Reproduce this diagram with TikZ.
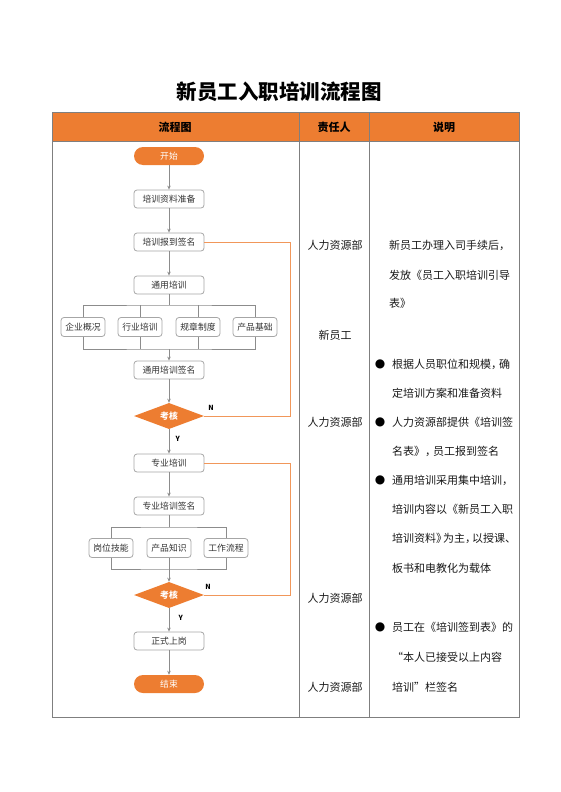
\documentclass[tikz,border=0pt]{standalone}
\usepackage{fontspec}
\setmainfont{Noto Sans CJK SC}
\newfontfamily\symfont{DejaVu Sans}
\usetikzlibrary{shapes.geometric, arrows.meta}
\definecolor{org}{HTML}{ED7D31}
\definecolor{lng}{HTML}{8C8C8C}
\definecolor{bdr}{HTML}{A6A6A6}
\definecolor{tbl}{HTML}{7F7F7F}
\definecolor{txt}{HTML}{333333}
\tikzset{
  box/.style={draw=bdr, line width=0.8pt, rounded corners=3pt, fill=white, minimum width=70pt, minimum height=18pt, inner sep=0pt, font=\fontsize{8.8}{10}\selectfont, text=txt},
  sbox/.style={box, minimum width=44pt, minimum height=19pt},
  pill/.style={fill=org, rounded corners=9pt, minimum width=70pt, minimum height=18pt, inner sep=0pt, font=\fontsize{8.8}{10}\selectfont, text=white},
  dia/.style={diamond, fill=org, minimum width=70pt, minimum height=26pt, inner sep=0pt, font=\fontsize{8.8}{10}\selectfont\bfseries, text=white},
  arr/.style={draw=lng, line width=0.8pt, -{Stealth[length=4pt,width=3.5pt]}},
  ln/.style={draw=lng, line width=0.8pt},
  oln/.style={draw=org!80, line width=0.9pt},
  yn/.style={font=\fontsize{7}{8}\selectfont\bfseries, text=black},
  who/.style={font=\fontsize{11}{12}\selectfont, text=black!90},
  desc/.style={font=\fontsize{11}{12}\selectfont, text=black!90, anchor=west, inner sep=0pt},
  bul/.style={font=\symfont\fontsize{12}{12}\selectfont, text=black, inner sep=0pt},
  hdr/.style={font=\fontsize{11}{12}\selectfont\bfseries, text=black}
}
\begin{document}
\begin{tikzpicture}[x=1pt,y=-1pt]
\useasboundingbox (0,0) rectangle (560,792);
% title
\node[font=\fontsize{20.5}{22}\selectfont\bfseries] (title) at (279,92) {新员工入职培训流程图};
% table
\fill[org] (52,112) rectangle (519,141);
\draw[tbl, line width=0.9pt] (52,112) rectangle (519,717);
\draw[tbl, line width=0.9pt] (52,141) -- (519,141);
\draw[tbl, line width=0.9pt] (299,112) -- (299,717);
\draw[tbl, line width=0.9pt] (369,112) -- (369,717);
\node[hdr] (h1) at (175,127) {流程图};
\node[hdr] (h2) at (334,127) {责任人};
\node[hdr] (h3) at (444,127) {说明};

% flowchart
\node[pill] (start) at (169,156) {开始};
\node[box] (prep) at (169,199) {培训资料准备};
\node[box] (sign) at (169,242) {培训报到签名};
\node[box] (gen) at (169,285) {通用培训};
\node[sbox] (g1) at (83,327) {企业概况};
\node[sbox] (g2) at (140,327) {行业培训};
\node[sbox] (g3) at (198,327) {规章制度};
\node[sbox] (g4) at (255,327) {产品基础};
\node[box] (gsign) at (169,370) {通用培训签名};
\node[dia] (k1) at (169,416) {考核};
\node[box] (pro) at (169,463) {专业培训};
\node[box] (psign) at (169,506) {专业培训签名};
\node[sbox] (p1) at (111,548) {岗位技能};
\node[sbox] (p2) at (169,548) {产品知识};
\node[sbox] (p3) at (226,548) {工作流程};
\node[dia] (k2) at (169,595) {考核};
\node[box] (job) at (169,641) {正式上岗};
\node[pill] (end) at (169,684) {结束};

\coordinate (b1) at (169,305);
\coordinate (j1) at (169,349);
\coordinate (b2) at (169,527);
\coordinate (j2) at (169,569);
\coordinate (lx1) at (290,416);
\coordinate (lx2) at (290,595);

\draw[arr] (start) -- (prep);
\draw[arr] (prep) -- (sign);
\draw[arr] (sign) -- (gen);
\draw[ln] (gen) -- (b1);
\draw[ln] (g1.north) |- (b1) -| (g4.north);
\draw[ln] (g2.north) -- (g2.north |- b1);
\draw[ln] (g3.north) -- (g3.north |- b1);
\draw[ln] (g1.south) |- (j1) -| (g4.south);
\draw[ln] (g2.south) -- (g2.south |- j1);
\draw[ln] (g3.south) -- (g3.south |- j1);
\draw[arr] (j1) -- (gsign);
\draw[arr] (gsign) -- (k1);
\draw[arr] (k1) -- node[yn, right, pos=0.4, xshift=3pt] (y1) {Y} (pro);
\draw[oln] (k1.east) -- (lx1) |- (sign.east);
\node[yn] (n1) at (211,408) {N};
\draw[arr] (pro) -- (psign);
\draw[ln] (psign) -- (b2);
\draw[ln] (p1.north) |- (b2) -| (p3.north);
\draw[ln] (p1.south) |- (j2) -| (p3.south);
\draw[ln] (p2.south) -- (j2);
\draw[arr] (j2) -- (k2);
\draw[arr] (k2) -- node[yn, right, pos=0.4, xshift=6pt] (y2) {Y} (job);
\draw[oln] (k2.east) -- (lx2) |- (pro.east);
\node[yn] (n2) at (208,587) {N};
\draw[arr] (job) -- (end);

% responsible column
\node[who] (w1) at (335,245) {人力资源部};
\node[who] (w2) at (335,335) {新员工};
\node[who] (w3) at (335,422) {人力资源部};
\node[who] (w4) at (335,598) {人力资源部};
\node[who] (w5) at (335,687) {人力资源部};

% description column
\node[desc] (d1) at (389,245) {新员工办理入司手续后，};
\node[desc] (d2) at (389,275) {发放《员工入职培训引导};
\node[desc] (d3) at (389,303) {表》};
\node[bul] (bu1) at (380,364) {●};
\node[desc] (d4) at (392,364) {根据人员职位和规模，\kern-3pt 确};
\node[desc] (d5) at (392,393) {定培训方案和准备资料};
\node[bul] (bu2) at (380,422) {●};
\node[desc] (d6) at (392,422) {人力资源部提供《培训签};
\node[desc] (d7) at (392,451) {名表》，\kern-3pt 员工报到签名};
\node[bul] (bu3) at (380,480) {●};
\node[desc] (d8) at (392,480) {通用培训采用集中培训，};
\node[desc] (d9) at (392,509) {培训内容以《新员工入职};
\node[desc] (d10) at (392,538) {培训资料》\kern-4pt 为主，\kern-4pt 以授课、};
\node[desc] (d11) at (392,568) {板书和电教化为载体};
\node[bul] (bu4) at (380,627) {●};
\node[desc] (d12) at (392,627) {员工在《培训签到表》的};
\node[desc] (d13) at (392,657) {“本人已接受以上内容};
\node[desc] (d14) at (392,687) {培训”栏签名};
\end{tikzpicture}
\end{document}
